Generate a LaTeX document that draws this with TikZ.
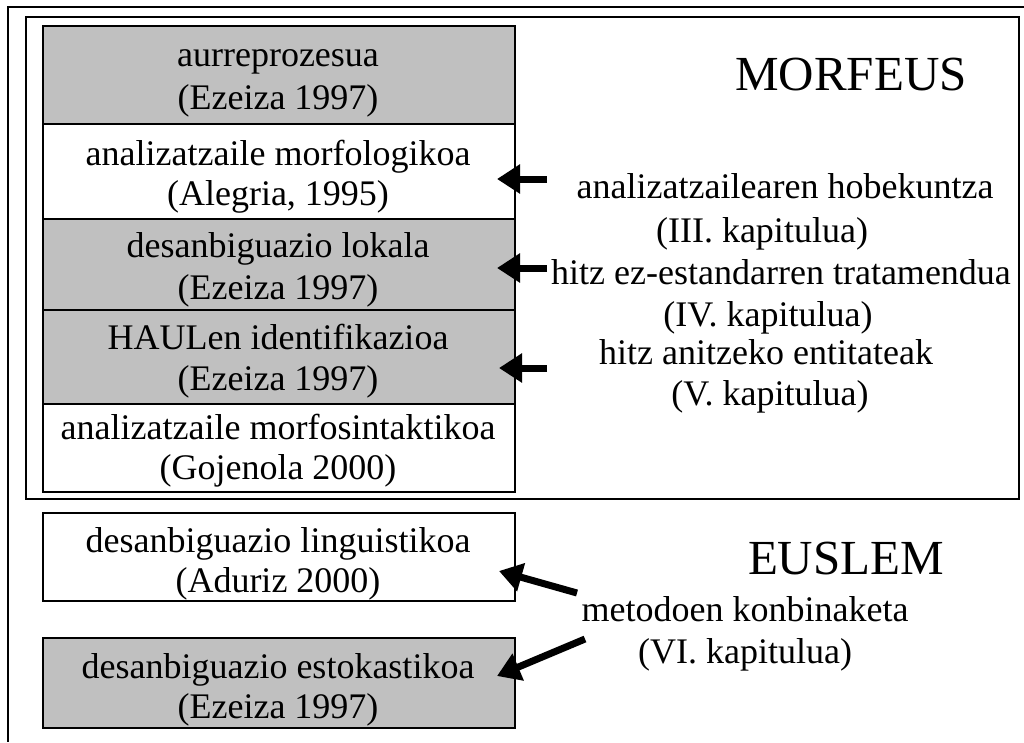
\documentclass[tikz,border=0pt]{standalone}
\usepackage{fontspec}
\setmainfont{Liberation Serif}
\usetikzlibrary{arrows.meta}
\definecolor{boxgray}{HTML}{C0C0C0}
\begin{document}
\begin{tikzpicture}[x=1pt,y=-1pt,
  frame/.style={line width=2pt},
  stage/.style={draw, line width=2pt, minimum width=472pt, inner sep=0pt,
    anchor=north west},
  shaded/.style={stage, fill=boxgray},
  note/.style={anchor=base, inner sep=0pt, font=\fontsize{36}{42}\selectfont},
  title/.style={anchor=base, inner sep=0pt, font=\fontsize{49}{52}\selectfont},
  pointer/.style={line width=7pt, -{Triangle[length=23pt,width=28pt]}}
]
\useasboundingbox (0,0) rectangle (1024,742);

% outer frame (open to the right and bottom) and the MORFEUS frame
\draw[frame] (1024,7) -- (8,7) -- (8,742);
\draw[frame] (26,17) rectangle (1019,499);

% MORFEUS stages
\node[shaded, minimum height=98pt] (pre)  at (42,25)  {};
\node[stage,  minimum height=95pt] (morf) at (42,123) {};
\node[shaded, minimum height=91pt] (lok)  at (42,218) {};
\node[shaded, minimum height=94pt] (haul) at (42,309) {};
\node[stage,  minimum height=88pt] (sint) at (42,403) {};

% EUSLEM stages
\node[stage,  minimum height=88pt] (ling) at (42,512) {};
\node[shaded, minimum height=90pt] (esto) at (42,637) {};

% stage labels
\node[note] (pre1)  at (278,66)  {aurreprozesua};
\node[note] (pre2)  at (278,109) {(Ezeiza 1997)};
\node[note] (morf1) at (278,165) {analizatzaile morfologikoa};
\node[note] (morf2) at (278,205) {(Alegria, 1995)};
\node[note] (lok1)  at (278,257) {desanbiguazio lokala};
\node[note] (lok2)  at (278,299) {(Ezeiza 1997)};
\node[note] (haul1) at (278,349) {HAULen identifikazioa};
\node[note] (haul2) at (278,390) {(Ezeiza 1997)};
\node[note] (sint1) at (278,439) {analizatzaile morfosintaktikoa};
\node[note] (sint2) at (278,479) {(Gojenola 2000)};
\node[note] (ling1) at (278,552) {desanbiguazio linguistikoa};
\node[note] (ling2) at (278,592) {(Aduriz 2000)};
\node[note] (esto1) at (278,678) {desanbiguazio estokastikoa};
\node[note] (esto2) at (278,718) {(Ezeiza 1997)};

% titles
\node[title] (morfeus) at (851,90) {MORFEUS};
\node[title] (euslem) at (846,574) {EUSLEM};

% notes on the right
\node[note] (n1a) at (785,198) {analizatzailearen hobekuntza};
\node[note] (n1b) at (762,242) {(III. kapitulua)};
\node[note] (n2a) at (781,284) {hitz ez-estandarren tratamendua};
\node[note] (n2b) at (768,326) {(IV. kapitulua)};
\node[note] (n3a) at (766,364) {hitz anitzeko entitateak};
\node[note] (n3b) at (770,405) {(V. kapitulua)};
\node[note] (n4a) at (745,621) {metodoen konbinaketa};
\node[note] (n4b) at (745,663) {(VI. kapitulua)};

% arrow tails
\coordinate (t1) at (547,179);
\coordinate (t2) at (547,268);
\coordinate (t3) at (547,368);
\coordinate (t4) at (577,593);
\coordinate (t5) at (585,639);

% arrows pointing into the stages
\draw[pointer] (t1) -- ([xshift=-19pt]morf.east |- t1);
\draw[pointer] (t2) -- ([xshift=-19pt]lok.east |- t2);
\draw[pointer] (t3) -- ([xshift=-17pt]haul.east |- t3);
\draw[pointer] (t4) -- ([xshift=-17pt,yshift=-14pt]ling.east);
\draw[pointer] (t5) -- ([xshift=-19pt,yshift=7pt]esto.east);
\end{tikzpicture}
\end{document}
